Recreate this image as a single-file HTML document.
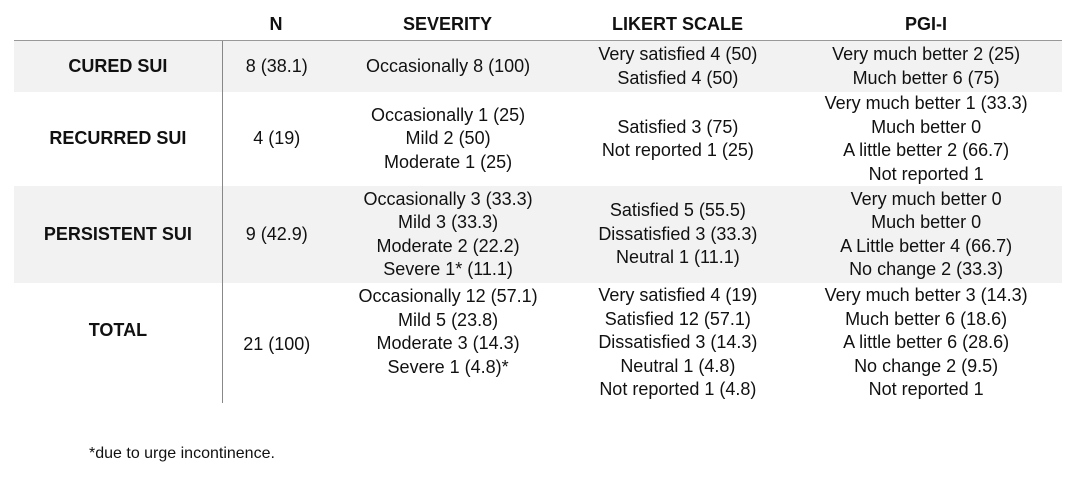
<!DOCTYPE html>
<html><head><meta charset="utf-8"><style>
body{margin:0;width:1080px;height:480px;background:#fff;font-family:"Liberation Sans",Arial,sans-serif;color:#111;position:relative;overflow:hidden}
.row{position:absolute;left:14px;width:1048px;display:flex}
.row.sh{background:#f2f2f2}
.c{display:flex;flex-direction:column;justify-content:center;align-items:center;text-align:center;font-size:18px;line-height:23.5px}
.l{width:208px;font-weight:bold}
.n{width:108px;border-left:1px solid #888}
.s{width:235px}.k{width:225px}.p{width:272px}
.hd{position:absolute;top:14px;font-weight:bold;font-size:18px;text-align:center}
</style></head><body>
<div class="hd" style="left:222px;width:108px">N</div>
<div class="hd" style="left:330px;width:235px">SEVERITY</div>
<div class="hd" style="left:565px;width:225px">LIKERT SCALE</div>
<div class="hd" style="left:790px;width:272px">PGI-I</div>
<div style="position:absolute;left:14px;top:40px;width:1048px;height:1px;background:#999"></div>
<div class="row sh" style="top:41px;height:51px">
<div class="c l">CURED SUI</div><div class="c n">8 (38.1)</div>
<div class="c s">Occasionally 8 (100)</div>
<div class="c k">Very satisfied 4 (50)<br>Satisfied 4 (50)</div>
<div class="c p">Very much better 2 (25)<br>Much better 6 (75)</div></div>
<div class="row" style="top:92px;height:94px">
<div class="c l">RECURRED SUI</div><div class="c n">4 (19)</div>
<div class="c s">Occasionally 1 (25)<br>Mild 2 (50)<br>Moderate 1 (25)</div>
<div class="c k">Satisfied 3 (75)<br>Not reported 1 (25)</div>
<div class="c p">Very much better 1 (33.3)<br>Much better 0<br>A little better 2 (66.7)<br>Not reported 1</div></div>
<div class="row sh" style="top:186px;height:97px">
<div class="c l">PERSISTENT SUI</div><div class="c n">9 (42.9)</div>
<div class="c s">Occasionally 3 (33.3)<br>Mild 3 (33.3)<br>Moderate 2 (22.2)<br>Severe 1* (11.1)</div>
<div class="c k">Satisfied 5 (55.5)<br>Dissatisfied 3 (33.3)<br>Neutral 1 (11.1)</div>
<div class="c p">Very much better 0<br>Much better 0<br>A Little better 4 (66.7)<br>No change 2 (33.3)</div></div>
<div class="row" style="top:283px;height:120px">
<div class="c l" style="justify-content:flex-start;padding-top:36px;height:84px">TOTAL</div><div class="c n" style="padding-top:4px">21 (100)</div>
<div class="c s" style="justify-content:flex-start;padding-top:2px">Occasionally 12 (57.1)<br>Mild 5 (23.8)<br>Moderate 3 (14.3)<br>Severe 1 (4.8)*</div>
<div class="c k">Very satisfied 4 (19)<br>Satisfied 12 (57.1)<br>Dissatisfied 3 (14.3)<br>Neutral 1 (4.8)<br>Not reported 1 (4.8)</div>
<div class="c p">Very much better 3 (14.3)<br>Much better 6 (18.6)<br>A little better 6 (28.6)<br>No change 2 (9.5)<br>Not reported 1</div></div>
<div style="position:absolute;left:89px;top:445px;font-size:16px">*due to urge incontinence.</div>
</body></html>
